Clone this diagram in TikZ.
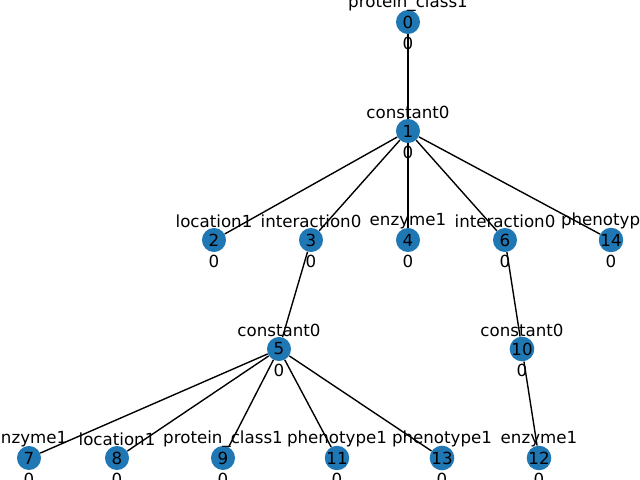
\documentclass[tikz,border=0pt]{standalone}
\usepackage{fontspec}
\setmainfont{DejaVu Sans}
\usetikzlibrary{positioning}
\definecolor{nodeblue}{HTML}{1F77B4}
\tikzset{
	vertex/.style={
		circle, fill=nodeblue, inner sep=0pt, minimum size=17.3pt,
		font=\fontsize{12}{14}\selectfont
	},
	nodetext/.style={
		inner sep=0pt, font=\fontsize{12}{14}\selectfont
	},
	edge/.style={
		draw=black, line width=1pt
	}
}
\begin{document}
\begin{tikzpicture}[x=0.72pt,y=-0.72pt]
    \useasboundingbox (0,0) rectangle (640,480);
    \clip (0,0) rectangle (640,480);

    \foreach \n/\x/\y/\t in {
        0/408/22/protein\_class1,
        1/408/131/constant0,
        2/214/240/location1,
        3/311/240/interaction0,
        4/408/240/enzyme1,
        6/505/240/interaction0,
        14/611/240/phenotype1,
        5/279/349/constant0,
        10/522/349/constant0,
        7/29/458/enzyme1,
        8/117/458/location1,
        9/223/458/protein\_class1,
        11/337/458/phenotype1,
        13/442/458/phenotype1,
        12/539/458/enzyme1%
    }{
        \node[vertex] (n\n) at (\x,\y) {\n};
        \node[nodetext] (n\n-name) at (\x,\y-19) {\t};
        \node[nodetext] (n\n-value) at (\x,\y+21) {0};
    }

    % tree edges
    \foreach \a/\b in {0/1, 1/2, 1/3, 1/4, 1/6, 1/14, 3/5, 6/10,
                       5/7, 5/8, 5/9, 5/11, 5/13, 10/12}{
        \draw[edge] (n\a) -- (n\b);
    }
\end{tikzpicture}
\end{document}
